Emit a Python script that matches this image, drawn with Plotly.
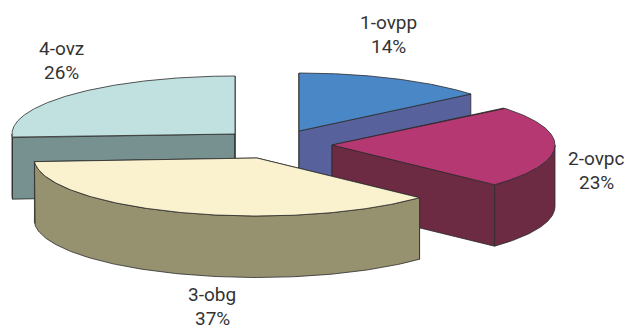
import numpy as np
import plotly.graph_objects as go

categories = ["1-ovpp", "2-ovpc", "3-obg", "4-ovz"]
shares = [14, 23, 37, 26]

top_colors = ["#4A87C7", "#B63873", "#FAF1CE", "#C0E1DF"]
side_colors = ["#57619B", "#6C2B43", "#96916F", "#76918F"]
centers = [(299, 131), (332, 145), (257, 158), (235, 134)]
label_pos = [(388, 22), (596, 158), (212, 294), (61, 48)]
LINE_GAP = 24
RX, RY, DEPTH = 223, 58, 61.5
LINE = "#2b2b2b"

total = sum(shares)
ends = np.cumsum(shares) / total * 2 * np.pi
starts = np.concatenate([[0], ends[:-1]])

fig = go.Figure()


def poly(xs, ys, fill):
    fig.add_trace(go.Scatter(x=list(xs), y=list(ys), mode="lines", fill="toself",
                             fillcolor=fill, line=dict(color=LINE, width=0.8),
                             hoverinfo="skip", showlegend=False))


def rim(c, t):
    return c[0] + RX * np.sin(t), c[1] - RY * np.cos(t)


for i in [3, 0, 1, 2]:
    c, a, b = centers[i], starts[i], ends[i]
    # radial cut faces
    for t in (a, b):
        x, y = rim(c, t)
        poly([c[0], x, x, c[0], c[0]], [c[1], y, y + DEPTH, c[1] + DEPTH, c[1]], side_colors[i])
    # front part of the curved wall
    lo, hi = max(a, np.pi / 2), min(b, 3 * np.pi / 2)
    if hi > lo:
        t = np.linspace(lo, hi, 120)
        x, y = rim(c, t)
        poly(np.r_[x, x[::-1], x[0]], np.r_[y, y[::-1] + DEPTH, y[0]], side_colors[i])
    # top surface
    t = np.linspace(a, b, 160)
    x, y = rim(c, t)
    poly(np.r_[c[0], x, c[0]], np.r_[c[1], y, c[1]], top_colors[i])

FONT = dict(family="Roboto, Liberation Sans", size=19, color="#333333")
for name, share, (lx, ly) in zip(categories, shares, label_pos):
    fig.add_annotation(x=lx, y=ly, text=name, showarrow=False, font=FONT)
    fig.add_annotation(x=lx, y=ly + LINE_GAP, text=f"{share}%", showarrow=False, font=FONT)

fig.update_layout(width=626, height=329, margin=dict(l=0, r=0, t=0, b=0),
                  paper_bgcolor="white", plot_bgcolor="white",
                  xaxis=dict(visible=False, range=[0, 626], fixedrange=True),
                  yaxis=dict(visible=False, range=[329, 0], fixedrange=True))
fig.write_html("out.html", config={"displayModeBar": False},
               post_script="document.body.style.margin='0';document.body.style.overflow='hidden';")
